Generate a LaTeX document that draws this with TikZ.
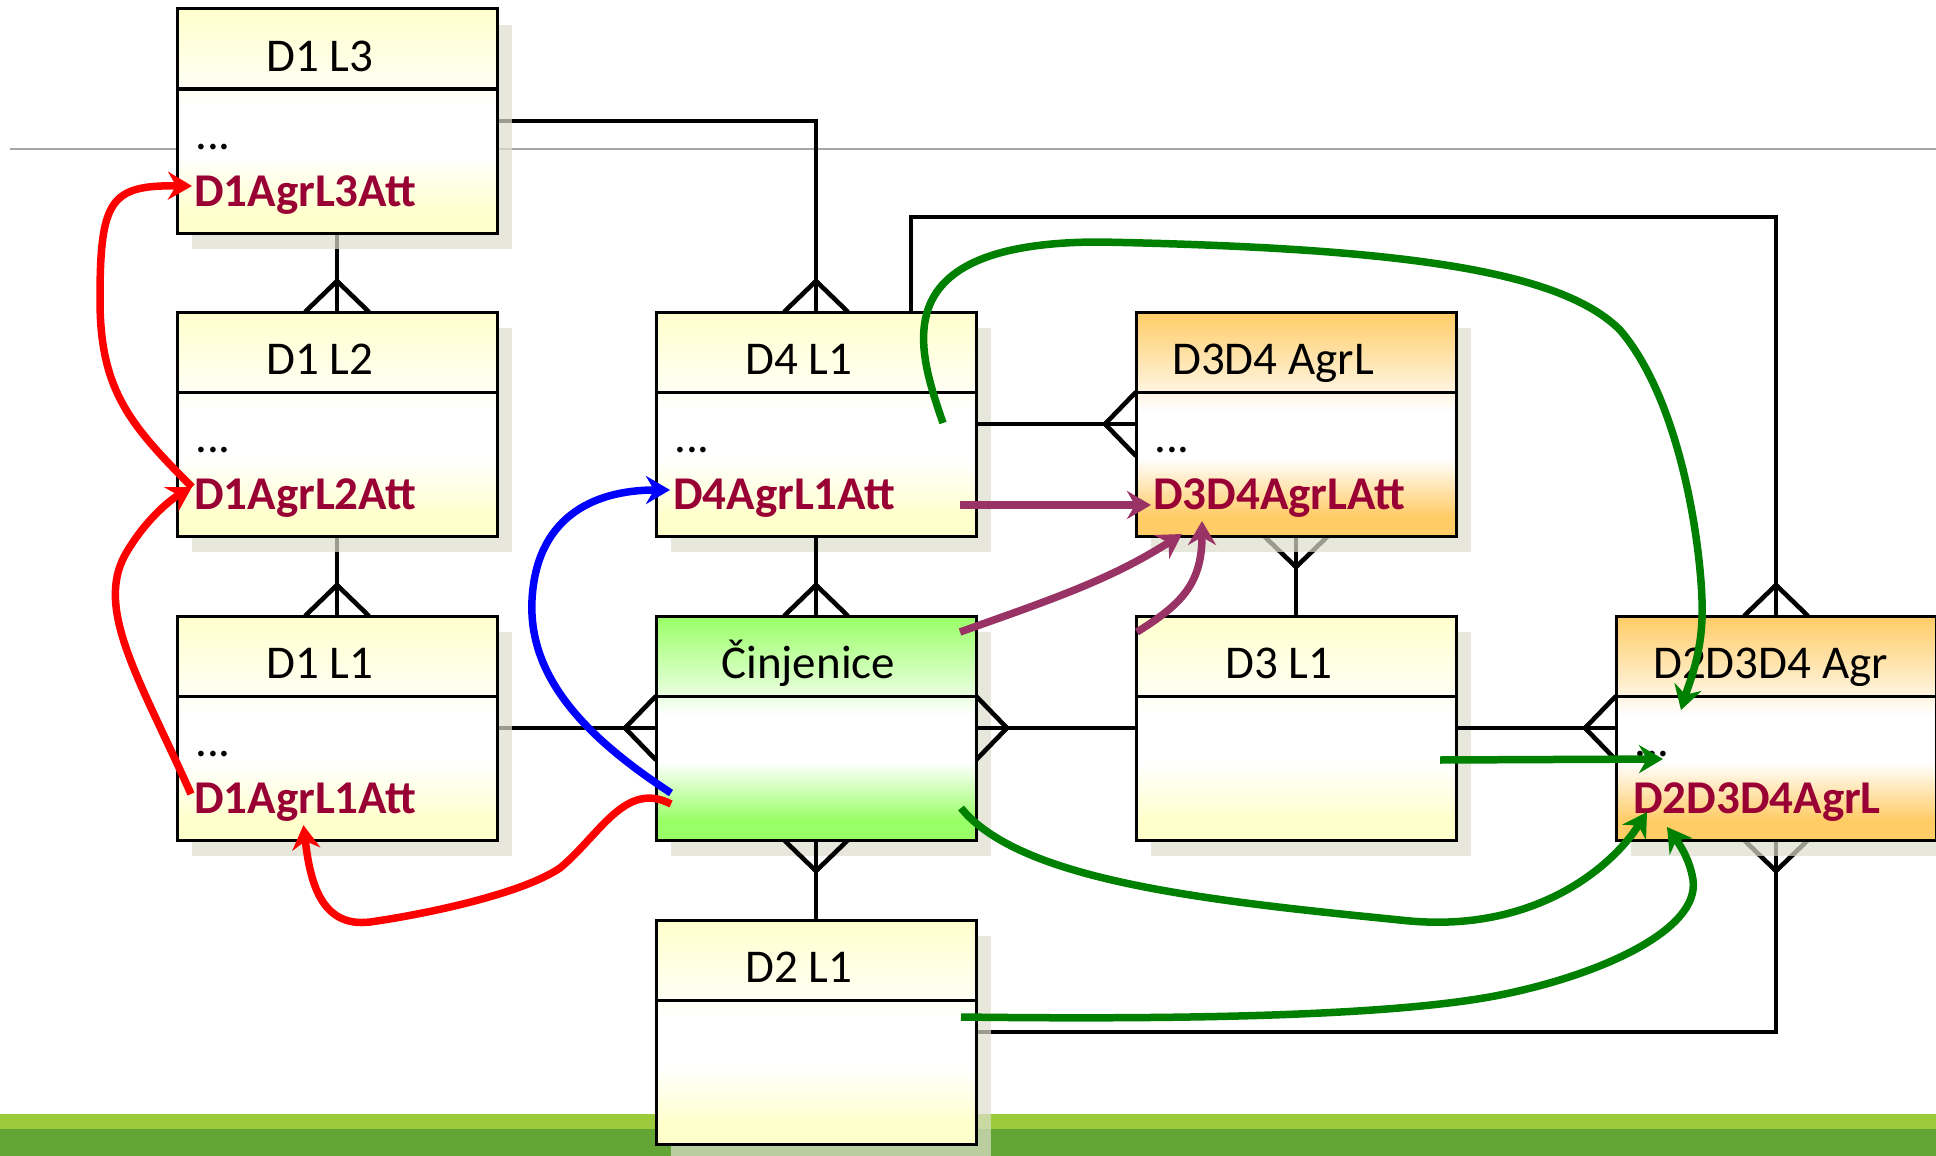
\documentclass[tikz,border=0pt]{standalone}
\usepackage{fontspec}
\setmainfont{Carlito}
\usetikzlibrary{arrows.meta,calc}
\definecolor{yelC}{RGB}{255,255,204}
\definecolor{oraC}{RGB}{255,204,102}
\definecolor{grnC}{RGB}{153,255,102}
\definecolor{attC}{RGB}{153,0,51}
\definecolor{purC}{RGB}{153,51,102}
\definecolor{grnA}{RGB}{0,128,0}
\definecolor{shadC}{RGB}{222,222,205}
\definecolor{bandL}{RGB}{155,203,59}
\definecolor{bandD}{RGB}{98,165,53}
\definecolor{topline}{RGB}{165,165,165}
\pgfdeclareverticalshading{yelbody}{100bp}{color(0bp)=(yelC); color(32bp)=(yelC); color(52bp)=(white); color(68bp)=(white); color(75bp)=(yelC!20!white); color(100bp)=(yelC!20!white)}
\pgfdeclareverticalshading{orabody}{100bp}{color(0bp)=(oraC); color(32bp)=(oraC); color(52bp)=(white); color(68bp)=(white); color(75bp)=(oraC!20!white); color(100bp)=(oraC!20!white)}
\pgfdeclareverticalshading{grnbody}{100bp}{color(0bp)=(grnC); color(32bp)=(grnC); color(52bp)=(white); color(68bp)=(white); color(75bp)=(grnC!20!white); color(100bp)=(grnC!20!white)}
\newcommand\boxfill[2]{%
  \fill[top color=#2C, bottom color=#2C!20!white] (#1.north west) rectangle ($(#1.north east)+(0,80)$);
  \fill[shading=#2body] ($(#1.north west)+(0,80)$) rectangle (#1.south east);
  \draw[boxline] (#1.north west) rectangle (#1.south east);
  \draw[boxline] ($(#1.north west)+(0,80)$) -- ($(#1.north east)+(0,80)$);
}
\newcommand\boxshadow[1]{\fill[shadowfill] ($(#1.north west)+(15,16)$) rectangle ($(#1.south east)+(15,16)$);}
\newcommand\crow[5]{\draw[conn] ($(#1)+(-#2,-#3)$) -- ($(#1)+(#4,#5)$) -- ($(#1)+(#2,#3)$);}
\begin{document}
\begin{tikzpicture}[x=1pt,y=-1pt,
  conn/.style={line width=4.6pt, black},
  boxline/.style={line width=3pt, black},
  placebox/.style={rectangle, minimum width=320pt, minimum height=224pt, inner sep=0pt, outer sep=0pt},
  shadowfill/.style={fill=shadC, opacity=0.7},
  ttl/.style={inner sep=0pt, anchor=base west, font=\fontsize{47}{56}\selectfont},
  dotsty/.style={inner sep=0pt, anchor=base west, font=\fontsize{47}{56}\selectfont},
  attsty/.style={inner sep=0pt, anchor=base west, text=attC, font=\fontsize{47}{56}\selectfont\bfseries},
  arr/.style={line width=7.5pt, -{Stealth[length=24pt,width=28pt,inset=8pt]}},
]
% canvas
\fill[white] (0,0) rectangle (1936,1156);
\useasboundingbox (0,0) rectangle (1936,1156);
\draw[topline, line width=1.8pt] (10,149) -- (1936,149);
\fill[bandL] (0,1114) rectangle (1936,1129);
\fill[bandD] (0,1129) rectangle (1936,1156);

% box placement
\path node[placebox] (d1l3) at (337,121) {}
      node[placebox] (d1l2) at (337,424) {}
      node[placebox] (d1l1) at (337,728) {}
      node[placebox] (d4l1) at (816,424) {}
      node[placebox] (cin) at (816,728) {}
      node[placebox] (d2l1) at (816,1032) {}
      node[placebox] (d3d4) at (1296,424) {}
      node[placebox] (d3l1) at (1296,728) {}
      node[placebox] (d2d3d4) at (1776,728) {};

% connectors behind shadows
\draw[conn] (d1l3.east) -| (d4l1.north);
\crow{d4l1.north}{32}{0}{0}{-31}
\draw[conn] (d1l3.south) -- (d1l2.north);
\crow{d1l2.north}{32}{0}{0}{-31}
\draw[conn] (d1l2.south) -- (d1l1.north);
\crow{d1l1.north}{32}{0}{0}{-31}
\draw[conn] (d1l1.east) -- (cin.west);
\crow{cin.west}{0}{32}{-31}{0}
\draw[conn] (d3l1.north) -- (d3d4.south);
\crow{d3d4.south}{32}{0}{0}{31}
\draw[conn] (d2l1.east) -| (d2d3d4.south);
\crow{d2d3d4.south}{32}{0}{0}{31}

% shadows
\boxshadow{d1l3}
\boxshadow{d1l2}
\boxshadow{d1l1}
\boxshadow{d4l1}
\boxshadow{cin}
\boxshadow{d2l1}
\boxshadow{d3d4}
\boxshadow{d3l1}
\boxshadow{d2d3d4}

% connectors over shadows
\draw[conn] (d4l1.south) -- (cin.north);
\crow{cin.north}{32}{0}{0}{-31}
\draw[conn] (d2l1.north) -- (cin.south);
\crow{cin.south}{32}{0}{0}{31}
\draw[conn] (d3l1.west) -- (cin.east);
\crow{cin.east}{0}{32}{31}{0}
\draw[conn] (d4l1.east) -- (d3d4.west);
\crow{d3d4.west}{0}{32}{-31}{0}
\draw[conn] (d3l1.east) -- (d2d3d4.west);
\crow{d2d3d4.west}{0}{32}{-31}{0}
\coordinate (c11a) at (911,217);
\draw[conn] (d4l1.north -| c11a) -- (c11a) -| (d2d3d4.north);
\crow{d2d3d4.north}{32}{0}{0}{-31}

% boxes
\boxfill{d1l3}{yel}
\boxfill{d1l2}{yel}
\boxfill{d1l1}{yel}
\boxfill{d4l1}{yel}
\boxfill{cin}{grn}
\boxfill{d2l1}{yel}
\boxfill{d3d4}{ora}
\boxfill{d3l1}{yel}
\boxfill{d2d3d4}{ora}

% texts
\node[ttl] (t_d1l3) at ($(d1l3.north west)+(89,62)$) {D1 L3};
\node[ttl] (t_d1l2) at ($(d1l2.north west)+(89,62)$) {D1 L2};
\node[ttl] (t_d1l1) at ($(d1l1.north west)+(89,62)$) {D1 L1};
\node[ttl] (t_d4l1) at ($(d4l1.north west)+(89,62)$) {D4 L1};
\node[ttl] (t_cin) at ($(cin.north west)+(65,62)$) {Činjenice};
\node[ttl] (t_d2l1) at ($(d2l1.north west)+(89,62)$) {D2 L1};
\node[ttl] (t_d3d4) at ($(d3d4.north west)+(36,62)$) {D3D4 AgrL};
\node[ttl] (t_d3l1) at ($(d3l1.north west)+(89,62)$) {D3 L1};
\node[ttl] (t_d2d3d4) at ($(d2d3d4.north west)+(37,62)$) {D2D3D4 Agr};

\node[dotsty] (x_d1l3) at ($(d1l3.north west)+(18,140)$) {...};
\node[dotsty] (x_d1l2) at ($(d1l2.north west)+(18,140)$) {...};
\node[dotsty] (x_d1l1) at ($(d1l1.north west)+(18,140)$) {...};
\node[dotsty] (x_d4l1) at ($(d4l1.north west)+(18,140)$) {...};
\node[dotsty] (x_d3d4) at ($(d3d4.north west)+(18,140)$) {...};
\node[dotsty] (x_d2d3d4) at ($(d2d3d4.north west)+(18,140)$) {...};

\node[attsty] (a_d1l3) at ($(d1l3.north west)+(17,197)$) {D1AgrL3Att};
\node[attsty] (a_d1l2) at ($(d1l2.north west)+(17,197)$) {D1AgrL2Att};
\node[attsty] (a_d1l1) at ($(d1l1.north west)+(17,197)$) {D1AgrL1Att};
\node[attsty] (a_d4l1) at ($(d4l1.north west)+(17,197)$) {D4AgrL1Att};
\node[attsty] (a_d3d4) at ($(d3d4.north west)+(17,197)$) {D3D4AgrLAtt};
\node[attsty] (a_d2d3d4) at ($(d2d3d4.north west)+(17,197)$) {D2D3D4AgrL};

% coloured arrows
\coordinate (rCs) at (671,804);
\coordinate (bS) at (671,793);
\coordinate (p1s) at (960,505);
\coordinate (p2s) at (960,632);
\coordinate (p2t) at (1182,534);
\coordinate (p3s) at (1137,632);
\coordinate (p3t) at (1202,521);
\coordinate (g1s) at (943,423);
\coordinate (g1t) at (1681,710);
\coordinate (g2s) at (1440,760);
\coordinate (g2t) at (1663,759);
\coordinate (g3s) at (961,808);
\coordinate (g3t) at (1647,812);
\coordinate (g4s) at (961,1017);
\coordinate (g4t) at (1667,827);

\draw[arr, red] ($(a_d1l2.base west)+(-2,-22)$) .. controls (130,425) and (100,390) .. (100,300) .. controls (100,200) and (110,185) .. ($(a_d1l3.base west)+(-2,-20)$);
\draw[arr, red] ($(a_d1l1.base west)+(-3,-19)$) .. controls (140,680) and (95,610) .. (125,555) .. controls (145,520) and (170,500) .. ($(a_d1l2.base west)+(-2,-22)$);
\draw[arr, red] (rCs) .. controls (625,780) and (600,835) .. (560,868) .. controls (520,895) and (420,915) .. (370,922) .. controls (320,928) and (310,880) .. ($(a_d1l1.south)+(-2,4)$);
\draw[arr, blue] (bS) .. controls (590,740) and (528,680) .. (532,600) .. controls (536,520) and (590,490) .. ($(a_d4l1.base west)+(-3,-19)$);
\draw[arr, purC] (p1s) -- ($(a_d3d4.base west)+(-2,-4)$);
\draw[arr, purC] (p2s) .. controls (1050,600) and (1110,580) .. (p2t);
\draw[arr, purC] (p3s) .. controls (1180,605) and (1202,585) .. (p3t);
\draw[arr, grnA] (g1s) .. controls (918,350) and (880,242) .. (1100,242) .. controls (1400,248) and (1560,270) .. (1620,330) .. controls (1680,400) and (1700,540) .. (1702,600) .. controls (1704,650) and (1690,680) .. (g1t);
\draw[arr, grnA] (g2s) -- (g2t);
\draw[arr, grnA] (g3s) .. controls (1020,880) and (1200,900) .. (1400,920) .. controls (1530,935) and (1610,870) .. (g3t);
\draw[arr, grnA] (g4s) .. controls (1200,1020) and (1400,1015) .. (1500,995) .. controls (1600,975) and (1700,930) .. (1693,880) .. controls (1690,860) and (1680,845) .. (g4t);
\end{tikzpicture}
\end{document}
